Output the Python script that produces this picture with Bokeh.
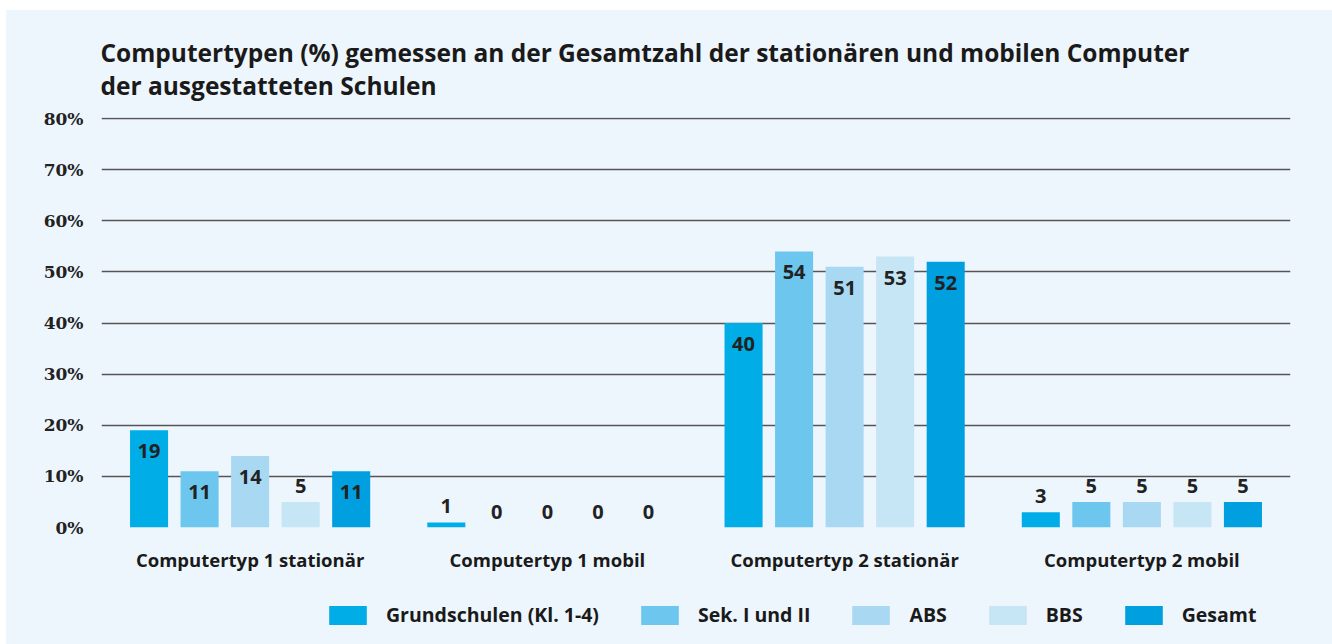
from bokeh.plotting import figure
from bokeh.layouts import column
from bokeh.models import ColumnDataSource, Range1d, FixedTicker, PrintfTickFormatter, Legend, LegendItem, FactorRange
from bokeh.transform import dodge
from bokeh.core.properties import value
from bokeh.embed import file_html
from bokeh.resources import INLINE

categories = ["Computertyp 1 stationär", "Computertyp 1 mobil", "Computertyp 2 stationär", "Computertyp 2 mobil"]
series_names = ["Grundschulen (Kl. 1-4)", "Sek. I und II", "ABS", "BBS", "Gesamt"]
grundschulen = [19, 1, 40, 3]
sek = [11, 0, 54, 5]
abs_ = [14, 0, 51, 5]
bbs = [5, 0, 53, 5]
gesamt = [11, 0, 52, 5]
series_values = [grundschulen, sek, abs_, bbs, gesamt]
colors = ["#00ADE6", "#6CC6EE", "#A9D9F2", "#C6E5F5", "#009FDF"]
y_ticks = [0, 10, 20, 30, 40, 50, 60, 70, 80]

BG = "#EEF6FD"
FONT = "Open Sans"

p = figure(width=1326, height=570, x_range=FactorRange(*categories, range_padding=0),
           y_range=Range1d(0, 80.2), output_backend="svg", toolbar_location=None,
           min_border_left=95, min_border_right=42, min_border_top=107, min_border_bottom=53)
p.background_fill_color = BG
p.border_fill_color = BG
p.outline_line_color = None

p.title.text = "Computertypen (%) gemessen an der Gesamtzahl der stationären und mobilen Computer\nder ausgestatteten Schulen"
p.title.text_font = FONT
p.title.text_font_size = "24.5px"
p.title.text_font_style = "bold"
p.title.text_color = "#1a1a1a"
p.title.text_line_height = 1.0
p.title.align = "left"
p.title.offset = -1
p.title.standoff = 32

width = 0.128
step = 0.17
for i, (name, vals, col) in enumerate(zip(series_names, series_values, colors)):
    off = (i - 2) * step
    src = ColumnDataSource(dict(
        cat=categories, val=vals,
        lab=[str(v) for v in vals],
        yoff=[21 if v >= 10 else -16 for v in vals],
    ))
    p.vbar(x=dodge("cat", off, range=p.x_range), top="val", width=width, source=src,
           fill_color=col, line_color=None)
    p.text(x=dodge("cat", off, range=p.x_range), y="val", text="lab", y_offset="yoff", source=src,
           text_align="center", text_baseline="middle", text_font=value(FONT),
           text_font_style="bold", text_font_size="20px", text_color="#222222")

p.xgrid.grid_line_color = None
p.ygrid.grid_line_color = "#555555"
p.ygrid.grid_line_width = 1.3
p.ygrid.ticker = FixedTicker(ticks=y_ticks)

p.yaxis.ticker = FixedTicker(ticks=y_ticks)
p.yaxis.formatter = PrintfTickFormatter(format="%d%%")
p.yaxis.axis_line_color = None
p.yaxis.major_tick_line_color = None
p.yaxis.minor_tick_line_color = None
p.yaxis.major_label_text_font = "DejaVu Serif"
p.yaxis.major_label_text_font_style = "bold"
p.yaxis.major_label_text_font_size = "17px"
p.yaxis.major_label_text_color = "#222222"
p.yaxis.major_label_standoff = 12

p.xaxis.axis_line_color = None
p.xaxis.major_tick_line_color = None
p.xaxis.minor_tick_line_color = None
p.xaxis.major_label_text_font = FONT
p.xaxis.major_label_text_font_style = "bold"
p.xaxis.major_label_text_font_size = "18.5px"
p.xaxis.major_label_text_color = "#1a1a1a"
p.xaxis.major_label_standoff = 13

# legend strip below the chart (its frame is aligned with the chart frame)
p2 = figure(width=1326, height=64, x_range=Range1d(0, 1), y_range=Range1d(0, 1),
            output_backend="svg", toolbar_location=None, min_border=0)
p2.background_fill_color = None
p2.border_fill_color = None
p2.outline_line_color = None
p2.axis.visible = False
p2.grid.visible = False
items = []
for name, col in zip(series_names, colors):
    r = p2.vbar(x=[0.5], top=[0], width=0.1, fill_color=col, line_color=None)
    items.append(LegendItem(label=name, renderers=[r]))

legend = Legend(items=items, orientation="horizontal", location=(223, 16),
                glyph_width=47, glyph_height=24, label_standoff=15, spacing=37,
                padding=0, margin=0, background_fill_alpha=0, border_line_alpha=0,
                label_text_font=FONT, label_text_font_style="bold",
                label_text_font_size="19.5px", label_text_color="#1a1a1a")
p2.add_layout(legend, "center")

layout = column(p, p2, spacing=0, margin=(10, 0, 0, 6), styles={"background-color": BG})
open("out.html", "w").write(file_html(layout, INLINE))
